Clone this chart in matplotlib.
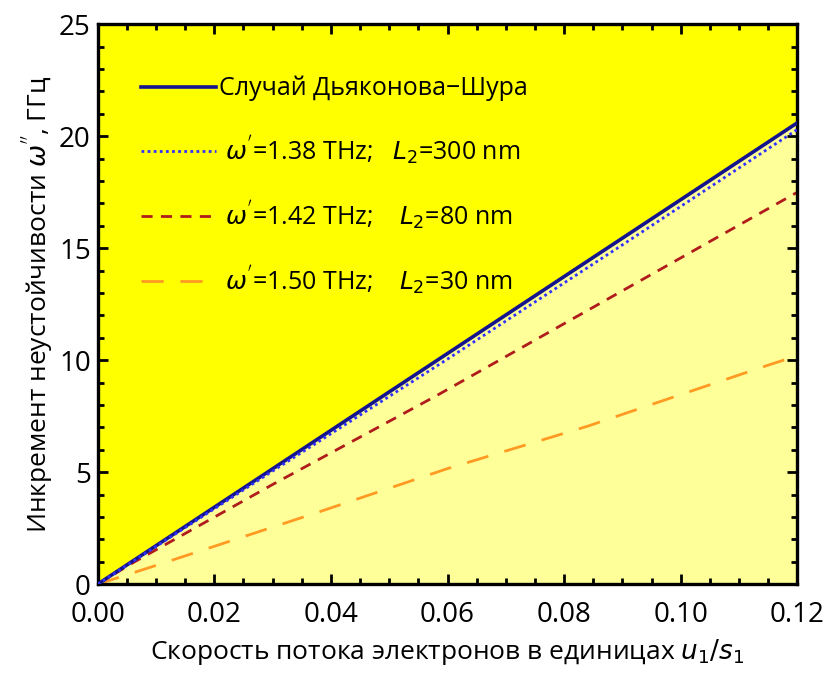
import numpy as np
import matplotlib.pyplot as plt
from matplotlib.ticker import MultipleLocator

# values (x in u1/s1, y in GHz)
x_ds = [0.0, 0.12]
y_ds = [0.0, 20.6]

x_300 = [0.0, 0.03, 0.06, 0.09, 0.12]
y_300 = [0.0, 5.05, 10.05, 15.15, 20.3]

x_80 = [0.0, 0.006, 0.03, 0.058, 0.09, 0.12]
y_80 = [0.0, 0.95, 4.45, 8.4, 13.1, 17.5]

x_30 = [0.0, 0.006, 0.011, 0.038, 0.060, 0.084, 0.097, 0.115, 0.12]
y_30 = [0.0, 0.5, 0.92, 3.23, 5.16, 7.05, 8.2, 9.78, 10.2]

labels = ["Случай Дьяконова\u2212Шура",
          r" $\omega^{'}$=1.38 THz;   $L_2$=300 nm",
          r" $\omega^{'}$=1.42 THz;    $L_2$=80 nm",
          r" $\omega^{'}$=1.50 THz;    $L_2$=30 nm"]

plt.rcParams['font.family'] = ['Open Sans', 'DejaVu Sans']
plt.rcParams['mathtext.fontset'] = 'dejavusans'

fig = plt.figure(figsize=(8.28, 6.73), dpi=100)
ax = fig.add_axes([0.118, 0.132, 0.845, 0.832])

# two shaded regions split by the Dyakonov-Shur line
ax.fill_between(x_ds, y_ds, 25, color='#ffff00', lw=0)
ax.fill_between(x_ds, 0, y_ds, color='#ffff99', lw=0)

ax.plot(x_ds, y_ds, color='#14148c', lw=2.6, label=labels[0], zorder=3)
ax.plot(x_300, y_300, color='#3030ff', lw=2, ls=(0, (1, 1.2)), label=labels[1], zorder=4)
ax.plot(x_80, y_80, color='#b01c1c', lw=2, ls=(0, (4, 3)), label=labels[2])
ax.plot(x_30, y_30, color='#ff9a22', lw=2, ls=(0, (8, 6)), label=labels[3])

ax.set_xlim(0, 0.12)
ax.set_ylim(0, 25)
ax.xaxis.set_major_locator(MultipleLocator(0.02))
ax.xaxis.set_minor_locator(MultipleLocator(0.005))
ax.yaxis.set_major_locator(MultipleLocator(5))
ax.yaxis.set_minor_locator(MultipleLocator(1))
ax.xaxis.set_major_formatter(plt.FormatStrFormatter('%.2f'))

ax.tick_params(which='both', direction='in', top=True, right=True, width=2, labelsize=20)
ax.tick_params(which='major', length=7)
ax.tick_params(which='minor', length=4)
ax.tick_params(axis='x', which='major', pad=12)
ax.tick_params(axis='y', which='major', pad=5)
for s in ax.spines.values():
    s.set_linewidth(2.4)

ax.set_xlabel(r"Скорость потока электронов в единицах $u_1/s_1$", fontsize=19, labelpad=6)
ax.set_ylabel(r"Инкремент неустойчивости $\omega^{''}$, ГГц", fontsize=19, labelpad=2)

ax.legend(loc='upper left', bbox_to_anchor=(0.03, 0.948), frameon=False, fontsize=18,
          handlelength=3.0, handletextpad=0.1, labelspacing=1.28)

fig.savefig('out.png', dpi=100)
